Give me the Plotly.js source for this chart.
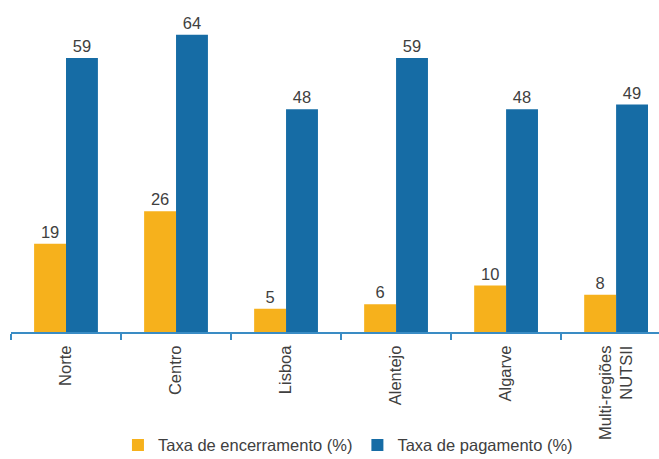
<!DOCTYPE html>
<html>
<head>
<meta charset="utf-8">
<script src="https://cdn.plot.ly/plotly-3.0.1.min.js"></script>
<style>html,body{margin:0;padding:0;background:#fff;}#chart{width:659px;height:459px;}</style>
</head>
<body>
<div id="chart"></div>
<script>
const categories = ["Norte", "Centro", "Lisboa", "Alentejo", "Algarve", "Multi-regiões<br>NUTSII"];
const encerramento = [19, 26, 5, 6, 10, 8];
const pagamento = [59, 64, 48, 59, 48, 49];
const seriesNames = ["Taxa de encerramento (%)", "Taxa de pagamento (%)"];

const font = {family: "Liberation Sans, Arial, sans-serif", size: 16.5, color: "#404040"};

const traces = [
  {type: "bar", name: seriesNames[0], x: categories, y: encerramento,
   marker: {color: "#F6B11C"}, text: encerramento.map(String), textposition: "outside",
   textfont: font, cliponaxis: false, hoverinfo: "none"},
  {type: "bar", name: seriesNames[1], x: categories, y: pagamento,
   marker: {color: "#166CA5"}, text: pagamento.map(String), textposition: "outside",
   textfont: font, cliponaxis: false, hoverinfo: "none"}
];

const layout = {
  width: 659, height: 459,
  margin: {l: 11, r: 0, t: 20, b: 127},
  paper_bgcolor: "#fff", plot_bgcolor: "#fff",
  font: font,
  barmode: "group", bargap: 0.42, bargroupgap: 0,
  showlegend: true,
  legend: {orientation: "h", x: 0.52, xanchor: "center", yref: "container", y: 0.03, yanchor: "middle",
           font: font, itemwidth: 30, traceorder: "normal"},
  xaxis: {type: "category", range: [-0.5, 5.39], showline: true, linecolor: "#3A8CC4", linewidth: 2,
          ticks: "outside", tickson: "boundaries", ticklen: 6, tickcolor: "#3A8CC4", tickwidth: 2,
          ticklabelstandoff: 5,
          tickangle: -90, tickfont: font, showgrid: false, zeroline: false, automargin: false},
  yaxis: {range: [0, 67.2], visible: false, showgrid: false, zeroline: false, fixedrange: true}
};

Plotly.newPlot("chart", traces, layout, {displayModeBar: false, staticPlot: true});
</script>
</body>
</html>
